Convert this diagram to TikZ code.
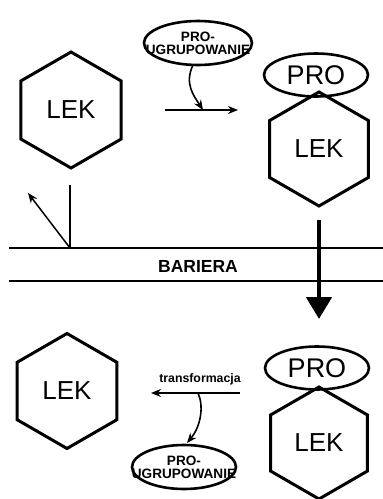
\documentclass[tikz,border=0pt]{standalone}
\usepackage{fontspec}
\setmainfont{Liberation Sans}
\usetikzlibrary{arrows.meta, shapes.geometric, positioning}
\tikzset{>={Stealth[length=10pt,width=8pt]}}
\tikzset{
  hexbox/.style={draw, line width=3pt, regular polygon, regular polygon sides=6,
    regular polygon rotate=30, inner sep=0pt, font=\fontsize{26}{26}\selectfont},
  proball/.style={draw, line width=2.6pt, ellipse, minimum width=104pt, minimum height=43pt,
    inner sep=0pt, font=\fontsize{27}{27}\selectfont},
  grptext/.style={inner sep=0pt, align=center, font=\bfseries\fontsize{13.6}{13}\selectfont},
  ring/.style={line width=2.6pt},
}

\begin{document}
\begin{tikzpicture}[x=1pt, y=-1pt]
        \useasboundingbox (0,0) rectangle (383,499);

        % top part
        \node[hexbox, minimum size=116pt] (lekA) at (71,110) {LEK};
        \node[grptext] (grpA) at (198,43) {PRO-\\UGRUPOWANIE};
        \draw[ring] (grpA.center) ellipse [x radius=54, y radius=22];
        \node[proball] (proA) at (316,75) {PRO};
        \node[hexbox, minimum size=114pt] (lekB) at (319,149) {LEK};
        \coordinate (inA) at (165,110);
        \coordinate (outA) at (238,110);
        \coordinate (hitA) at (203,110);
        \coordinate (grpAs) at (193,65);
        \draw [->, line width=1.6pt] (inA)--(outA);
        \draw [->, line width=1.6pt] (grpAs) .. controls (184,84) and (194,96) .. (hitA);

        % barrier
        \coordinate (barL) at (9,248);
        \coordinate (barR) at (383,248);
        \coordinate (barLL) at (9,281);
        \coordinate (barRR) at (383,281);
        \draw [line width=1.5pt] (barL)--(barR);
        \draw [line width=1.5pt] (barLL)--(barRR);
        \node[font=\bfseries\fontsize{17.5}{17.5}\selectfont] (bar) at (198,266) {BARIERA};

        % reflected
        \coordinate (hitB) at (70,248);
        \coordinate (topB) at (70,185);
        \coordinate (endB) at (28,193);
        \draw [line width=1.5pt] (topB)--(hitB);
        \draw [->, line width=1.5pt] (hitB)--(endB);

        % through the barrier
        \coordinate (goA) at (319,220);
        \coordinate (goB) at (319,319);
        \draw [-{Triangle[length=22pt,width=25pt]}, line width=4.8pt] (goA)--(goB);

        % bottom part
        \node[hexbox, minimum size=115pt] (lekC) at (67,391) {LEK};
        \node[proball] (proB) at (317,368) {PRO};
        \node[hexbox, minimum size=112pt] (lekD) at (319,443) {LEK};
        \coordinate (inC) at (240,393);
        \coordinate (outC) at (151,393);
        \coordinate (hitC) at (198,393);
        \draw [->, line width=1.6pt] (inC)--(outC);
        \node[font=\bfseries\fontsize{12.3}{12.3}\selectfont] (trf) at (200,379) {transformacja};
        \node[grptext] (grpB) at (184,467) {PRO-\\UGRUPOWANIE};
        \draw[ring] (grpB.center) ellipse [x radius=52, y radius=22];
        \coordinate (grpBn) at (187,443);
        \draw [->, line width=1.6pt] (hitC) .. controls (204,406) and (201,426) .. (grpBn);
\end{tikzpicture}
\end{document}
